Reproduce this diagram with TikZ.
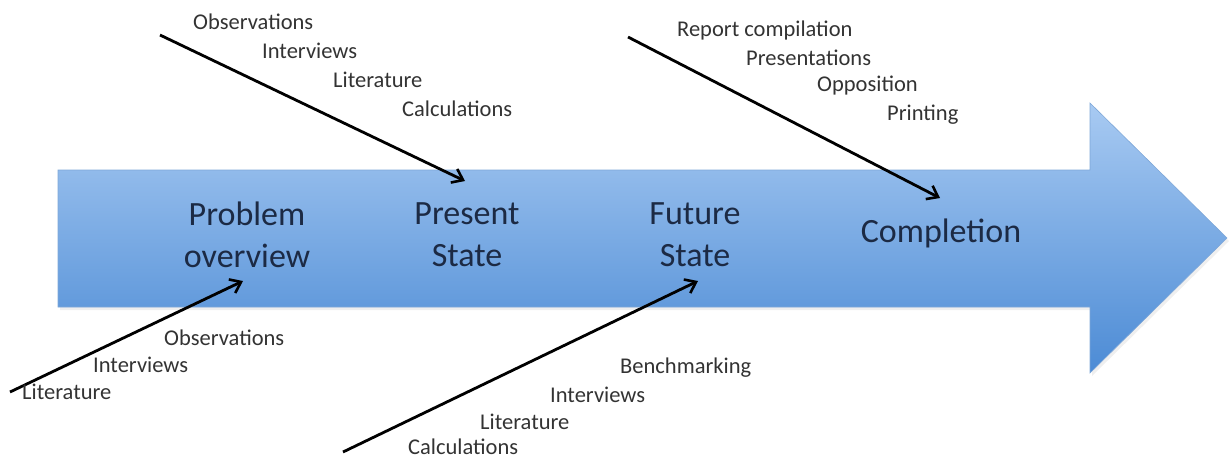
\documentclass[tikz,border=0pt]{standalone}
\usepackage{fontspec}
\setmainfont{Carlito}
\usetikzlibrary{arrows.meta}
\definecolor{arrowtop}{HTML}{A8CAF2}
\definecolor{arrowbot}{HTML}{4C8BD5}
\definecolor{arrowedge}{HTML}{7EA7D8}
\definecolor{stagetext}{HTML}{1C2A44}
\definecolor{itemtext}{HTML}{333333}
\tikzset{
  stage/.style={font=\fontsize{34}{42}\selectfont, text=stagetext, align=center, inner sep=0pt},
  item/.style={font=\fontsize{22.5}{26}\selectfont, text=itemtext, anchor=west, inner sep=0pt},
  feed/.style={line width=2.8pt, -{Straight Barb[length=10pt, width=15pt, line width=2.6pt]}, black},
}
\begin{document}
\begin{tikzpicture}[x=1pt, y=-1pt]
\useasboundingbox (0,0) rectangle (1229,459);

% main process arrow
\fill[black!12, opacity=0.5] (60,172) -- (1092,172) -- (1092,106) -- (1229,241) -- (1092,376) -- (1092,310) -- (60,310) -- cycle;
\shade[top color=arrowtop, bottom color=arrowbot, draw=arrowedge, line width=0.6pt]
  (58,170) -- (1090,170) -- (1090,103) -- (1227,238) -- (1090,373) -- (1090,307) -- (58,307) -- cycle;

% stages along the arrow
\node[stage] (problem)    at (247,235) {Problem\\overview};
\node[stage] (present)    at (467,235) {Present\\State};
\node[stage] (future)     at (695,235) {Future\\State};
\node[stage] (completion) at (941,233) {Completion};

% inputs to the present state
\coordinate (psStart) at (160,35);
\coordinate (psEnd)   at (465,181);
\draw[feed] (psStart) -- (psEnd);
\node[item] (ps1) at (193,22)  {Observations};
\node[item] (ps2) at (262,51)  {Interviews};
\node[item] (ps3) at (333,80)  {Literature};
\node[item] (ps4) at (402,109) {Calculations};

% inputs to completion
\coordinate (cpStart) at (628,37);
\coordinate (cpEnd)   at (940,198);
\draw[feed] (cpStart) -- (cpEnd);
\node[item] (cp1) at (677,30)  {Report compilation};
\node[item] (cp2) at (746,58)  {Presentations};
\node[item] (cp3) at (817,86)  {Opposition};
\node[item] (cp4) at (887,115) {Printing};

% inputs to the problem overview
\coordinate (poStart) at (10,392);
\coordinate (poEnd)   at (243,281);
\draw[feed] (poStart) -- (poEnd);
\node[item] (po1) at (164,338) {Observations};
\node[item] (po2) at (93,365)  {Interviews};
\node[item] (po3) at (22,392)  {Literature};

% inputs to the future state
\coordinate (fsStart) at (343,452);
\coordinate (fsEnd)   at (698,281);
\draw[feed] (fsStart) -- (fsEnd);
\node[item] (fs1) at (620,368) {Benchmarking};
\node[item] (fs2) at (550,395) {Interviews};
\node[item] (fs3) at (480,422) {Literature};
\node[item] (fs4) at (408,447) {Calculations};
\end{tikzpicture}
\end{document}
